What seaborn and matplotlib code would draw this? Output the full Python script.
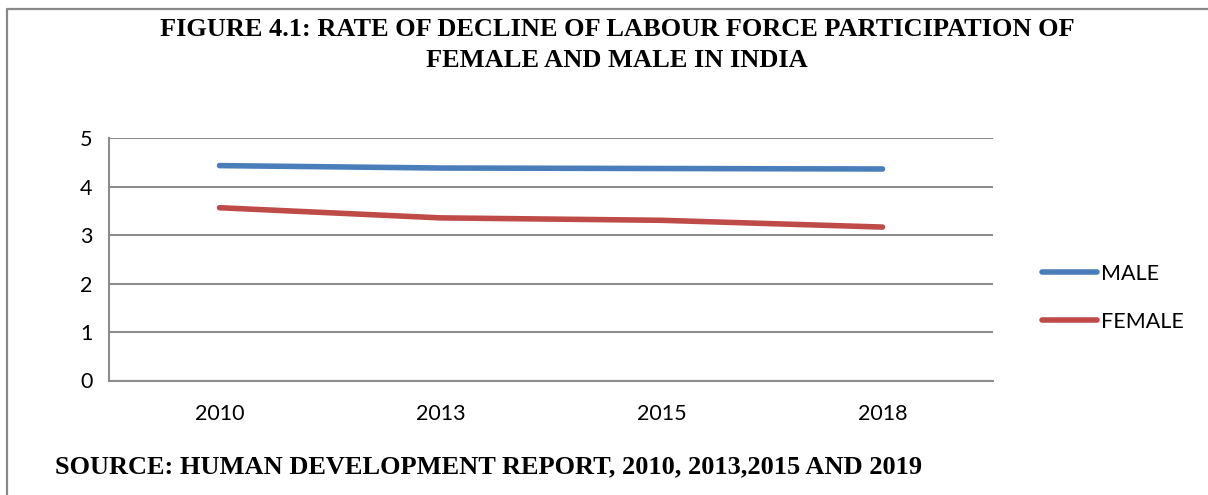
import matplotlib
matplotlib.use("Agg")
import matplotlib.pyplot as plt
from matplotlib.lines import Line2D
import numpy as np
import pandas as pd
import seaborn as sns

years = ["2010", "2013", "2015", "2018"]
male = [4.44, 4.39, 4.38, 4.37]
female = [3.57, 3.36, 3.31, 3.17]
series_names = ["MALE", "FEMALE"]
y_ticks = [0, 1, 2, 3, 4, 5]
title_text = "FIGURE 4.1: RATE OF DECLINE OF LABOUR FORCE PARTICIPATION OF\nFEMALE AND MALE IN INDIA"
source_text = "SOURCE: HUMAN DEVELOPMENT REPORT, 2010, 2013,2015 AND 2019"

sns.set_theme(style="white")
plt.rcParams["font.family"] = ["Lato", "DejaVu Sans"]
plt.rcParams["text.color"] = "black"

pos = list(range(len(years)))
df = pd.DataFrame({
    "pos": pos * 2,
    "value": male + female,
    "series": [series_names[0]] * len(years) + [series_names[1]] * len(years),
})

W, H = 1208, 495
fig = plt.figure(figsize=(W / 100, H / 100), dpi=100)
ax = fig.add_axes([109 / W, 1 - 380.5 / H, (993 - 109) / W, (380.5 - 138.5) / H])

palette = {"MALE": "#4A7EBB", "FEMALE": "#BE4B48"}
sns.lineplot(data=df, x="pos", y="value", hue="series", palette=palette,
             linewidth=4.0, sort=False, ax=ax, legend=False,
             solid_capstyle="round")

grid_c = "#8C8C8C"
ax.set_xlim(-0.5, len(years) - 0.5)
ax.set_ylim(0, 5)
ax.set_yticks(y_ticks)
ax.set_yticklabels([str(t) for t in y_ticks], fontsize=15.5, color="#000000")
ax.set_xticks(pos)
ax.set_xticklabels(years, fontsize=15.5, color="#000000")
ax.set_xticks(np.arange(-0.5, len(years), 1.0), minor=True)
ax.tick_params(axis="x", which="major", length=0, pad=17)
ax.tick_params(axis="x", which="minor", length=8, width=1.5, color=grid_c, direction="out")
ax.tick_params(axis="y", which="major", length=8, width=1.5, color=grid_c, direction="out", pad=4)
ax.yaxis.grid(True, color=grid_c, linewidth=1.5)
ax.xaxis.grid(False)
ax.set_axisbelow(True)
for s in ["top", "right"]:
    ax.spines[s].set_visible(False)
for s in ["left", "bottom"]:
    ax.spines[s].set_color(grid_c)
    ax.spines[s].set_linewidth(1.5)
ax.set_xlabel("")
ax.set_ylabel("")

handles = [Line2D([0], [0], color=palette[n], linewidth=4.0, solid_capstyle="round") for n in series_names]
leg = fig.legend(handles, series_names, loc="center left",
                 bbox_to_anchor=(1042 / W, 1 - 298 / H), frameon=False,
                 fontsize=15.5, handlelength=2.55, handletextpad=0.2,
                 labelspacing=1.3, borderpad=0, borderaxespad=0)
for t in leg.get_texts():
    t.set_color("black")

fig.text(617 / W, 1 - 45 / H, title_text, ha="center", va="center",
         fontsize=19, fontweight="bold", family=["Liberation Serif"],
         linespacing=1.4, color="black")
fig.text(55 / W, 1 - 467 / H, source_text, ha="left", va="center",
         fontsize=19, fontweight="bold", family=["Liberation Serif"],
         color="black")

# outer frame (left and top edges visible)
fig.add_artist(Line2D([7 / W, 7 / W, 1], [0, 1 - 9 / H, 1 - 9 / H],
                      transform=fig.transFigure, color="#888888", linewidth=1.6))

fig.savefig("out.png", dpi=100)
